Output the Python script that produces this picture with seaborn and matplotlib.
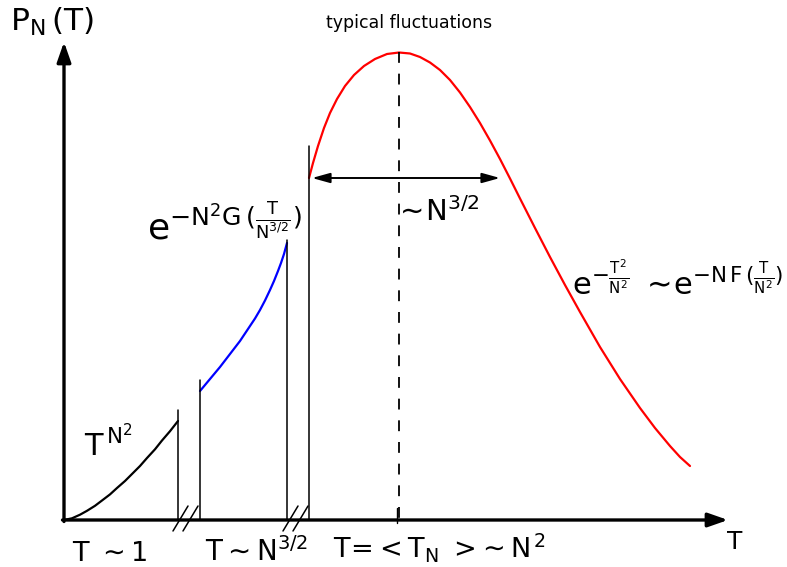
import matplotlib
matplotlib.use("Agg")
import matplotlib.pyplot as plt
import seaborn as sns

sns.set_theme(style="white")
plt.rcParams['font.family'] = ['DejaVu Sans']
plt.rcParams['mathtext.fontset'] = 'dejavusans'
plt.rcParams['mathtext.default'] = 'regular'
plt.rcParams['text.color'] = 'black'

# curve points (pixel coordinates, y downwards)
small_T_x = [64, 72, 80, 87, 95, 102, 110, 117, 125, 132, 140, 147, 155, 162, 170, 178]
small_T_y = [520, 518.3, 514.7, 510.8, 505.8, 500.5, 494.4, 488.0, 481.0, 474.0, 466.0,
             458.0, 449.3, 440.5, 431.2, 421.0]

mid_T_x = [200, 205, 210, 215, 220, 225, 230, 235, 240, 245, 250, 255, 260, 265, 270,
           274, 278, 281, 284, 287]
mid_T_y = [391, 385, 379, 373, 367, 360.5, 354, 347.5, 341, 333.5, 326, 318.5, 310, 300.5,
           290, 281, 271, 263, 254, 243]

peak_T_x = [309, 313, 318, 324, 330, 337, 345, 354, 364, 375, 387, 399, 410, 420, 430, 440,
            450, 460, 470, 480, 490, 500, 510, 520, 535, 550, 565, 580, 600, 620, 640, 655,
            670, 680, 690]
peak_T_y = [178, 163, 146, 128, 113, 99, 86, 75, 66, 59, 54, 52.5, 53.5, 57, 62.5, 70,
            80, 92.5, 107, 123, 140.5, 159, 178.5, 198.5, 228, 257, 285, 312, 347, 379, 408, 428,
            446, 457, 466]

# vertical separators: x, top
sep_x = [178, 200, 287, 309]
sep_top = [410, 380, 240, 146]

axis_y = 520
axis_x = 64

fig = plt.figure(figsize=(7.87, 5.67), dpi=100)
ax = fig.add_axes([0, 0, 1, 1])
ax.set_xlim(0, 787)
ax.set_ylim(567, 0)
ax.axis('off')

sns.lineplot(x=small_T_x, y=small_T_y, color='black', lw=1.6, sort=False, estimator=None, ax=ax)
sns.lineplot(x=mid_T_x, y=mid_T_y, color='blue', lw=1.6, sort=False, estimator=None, ax=ax)
sns.lineplot(x=peak_T_x, y=peak_T_y, color='red', lw=1.6, sort=False, estimator=None, ax=ax)

for x, top in zip(sep_x, sep_top):
    ax.plot([x, x], [top, axis_y], color='black', lw=1.1)

# axes with arrows
ax.annotate('', xy=(axis_x, 42), xytext=(axis_x, axis_y + 1.5),
            arrowprops=dict(arrowstyle='-|>,head_length=1.0,head_width=0.35', lw=2.4,
                            color='black', shrinkA=0, shrinkB=0))
ax.annotate('', xy=(728, axis_y), xytext=(axis_x - 1.5, axis_y),
            arrowprops=dict(arrowstyle='-|>,head_length=1.0,head_width=0.35', lw=2.4,
                            color='black', shrinkA=0, shrinkB=0))

# break marks
for x0 in [173, 183, 283, 293]:
    ax.plot([x0, x0 + 15], [531, 506], color='black', lw=1.1)

# dashed mean line and tick
ax.plot([399, 399], [52, axis_y], color='black', lw=1.3, dashes=(6, 6))
ax.plot([397, 397], [508, 523], color='black', lw=1.0)

# width arrow
ax.annotate('', xy=(312, 178), xytext=(500, 178),
            arrowprops=dict(arrowstyle='<|-|>,head_length=0.9,head_width=0.25', lw=1.4,
                            color='black', shrinkA=0, shrinkB=0))

ax.text(10, 31, r'$P_N\,(T)$', fontsize=22.5, ha='left', va='baseline')
ax.text(409, 28, 'typical fluctuations', fontsize=12.5, ha='center', va='baseline')
ax.text(147, 240, r'$e^{-N^2G\,(\frac{T}{N^{3/2}})}$', fontsize=26, ha='left', va='baseline')
ax.text(394, 221, r'$\sim\!N^{3/2}$', fontsize=21, ha='left', va='baseline')
ax.text(572, 296, r'$e^{-\frac{T^2}{N^2}}\ \sim\!e^{-N\,F\,(\frac{T}{N^2})}$', fontsize=22,
        ha='left', va='baseline')
ax.text(84, 456, r'$T^{\,N^2}$', fontsize=22, ha='left', va='baseline')
ax.text(72, 561, r'$T\ \sim 1$', fontsize=19.5, ha='left', va='baseline')
ax.text(205, 561, r'$T\sim N^{3/2}$', fontsize=20, ha='left', va='baseline')
ax.text(333, 557, r'$T\!=\!<T_N\ >\!\sim N^{\,2}$', fontsize=19.5, ha='left', va='baseline')
ax.text(727, 549, 'T', fontsize=18, ha='left', va='baseline')

fig.savefig('out.png', dpi=100)
